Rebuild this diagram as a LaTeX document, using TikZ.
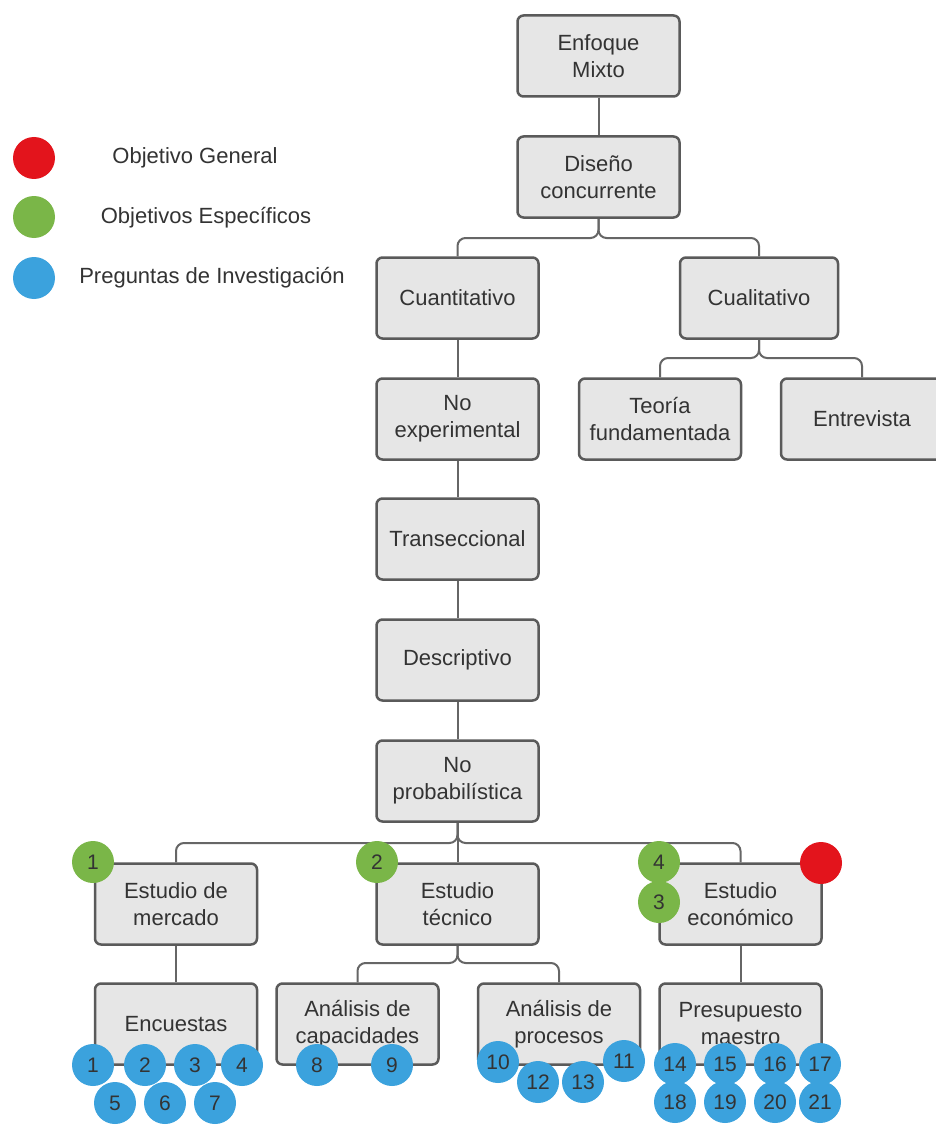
\documentclass[tikz,border=0pt]{standalone}
\usepackage{fontspec}
\setmainfont{Liberation Sans}
\definecolor{boxfill}{HTML}{E6E6E6}
\definecolor{boxdraw}{HTML}{5A5A5A}
\definecolor{linecol}{HTML}{666666}
\definecolor{textcol}{HTML}{333333}
\definecolor{gdot}{HTML}{7AB648}
\definecolor{bdot}{HTML}{3BA2DD}
\definecolor{rdot}{HTML}{E3141C}
\begin{document}
\begin{tikzpicture}[x=1pt,y=-1pt,
  box/.style={draw=boxdraw, fill=boxfill, line width=2.5pt, rounded corners=6pt,
    minimum width=162pt, minimum height=81pt, align=center, inner sep=0pt,
    font=\fontsize{22}{27}\selectfont, text=textcol},
  conn/.style={draw=linecol, line width=2pt, rounded corners=8pt},
  dot/.style={circle, minimum size=42pt, inner sep=0pt,
    font=\fontsize{21}{21}\selectfont, text=textcol},
  gd/.style={dot, fill=gdot},
  bd/.style={dot, fill=bdot},
  rd/.style={dot, fill=rdot},
  legtext/.style={font=\fontsize{22}{26}\selectfont, text=textcol, inner sep=0pt}]
\useasboundingbox (0,0) rectangle (936,1126);
\fill[white] (0,0) rectangle (936,1126);

% legend
\node[rd] (lr) at (34,158) {};
\node[gd] (lg) at (34,217) {};
\node[bd] (lb) at (34,278) {};
\node[legtext] (lrt) at (195,158) {Objetivo General};
\node[legtext] (lgt) at (206,218) {Objetivos Específicos};
\node[legtext] (lbt) at (212,278) {Preguntas de Investigación};

% boxes
\node[box] (mixto) at (598.5,56) {Enfoque\\Mixto};
\node[box] (diseno) at (598.5,177) {Diseño\\concurrente};
\node[box] (cuanti) at (457.5,298) {Cuantitativo};
\node[box, minimum width=158pt] (cuali) at (759,298) {Cualitativo};
\node[box] (noexp) at (457.5,419) {No\\experimental};
\node[box] (teoria) at (660,419) {Teoría\\fundamentada};
\node[box] (entrev) at (862,419) {Entrevista};
\node[box] (trans) at (457.5,539) {Transeccional};
\node[box] (desc) at (457.5,660) {Descriptivo};
\node[box] (noprob) at (457.5,781) {No\\probabilística};
\node[box] (mercado) at (176,904) {Estudio de\\mercado};
\node[box] (tecnico) at (457.5,904) {Estudio\\técnico};
\node[box] (economico) at (740.5,904) {Estudio\\económico};
\node[box] (encuestas) at (176,1024) {Encuestas};
\node[box] (capac) at (357.5,1024) {Análisis de\\capacidades};
\node[box] (procesos) at (559,1024) {Análisis de\\procesos};
\node[box] (presup) at (740.5,1024) {Presupuesto\\maestro};

% bus coordinates
\coordinate (b0) at (598.5,238);
\coordinate (b1) at (759,358);
\coordinate (b2) at (457.5,843);
\coordinate (b3) at (457.5,963);

% connectors
\begin{scope}[on background layer/.try]
\end{scope}
\draw[conn] (mixto) -- (diseno);
\draw[conn] (cuanti.north) |- (b0) -- (diseno.south);
\draw[conn] (cuali.north) |- (b0) -- (diseno.south);
\draw[conn] (teoria.north) |- (b1) -- (cuali.south);
\draw[conn] (entrev.north) |- (b1) -- (cuali.south);
\draw[conn] (cuanti) -- (noexp);
\draw[conn] (noexp) -- (trans);
\draw[conn] (trans) -- (desc);
\draw[conn] (desc) -- (noprob);
\draw[conn] (mercado.north) |- (b2) -- (noprob.south);
\draw[conn] (economico.north) |- (b2) -- (noprob.south);
\draw[conn] (tecnico.north) -- (noprob.south);
\draw[conn] (capac.north) |- (b3) -- (tecnico.south);
\draw[conn] (procesos.north) |- (b3) -- (tecnico.south);
\draw[conn] (mercado) -- (encuestas);
\draw[conn] (economico) -- (presup);

% objective dots
\node[gd] (g1) at (93,862) {1};
\node[gd] (g2) at (377,862) {2};
\node[gd] (g4) at (659,862) {4};
\node[gd] (g3) at (659,902) {3};
\node[rd] (r0) at (821,863) {};

% question dots
\node[bd] (q1) at (93,1065) {1};
\node[bd] (q2) at (145,1065) {2};
\node[bd] (q3) at (195,1065) {3};
\node[bd] (q4) at (242,1065) {4};
\node[bd] (q5) at (115,1103) {5};
\node[bd] (q6) at (165,1103) {6};
\node[bd] (q7) at (215,1103) {7};
\node[bd] (q8) at (317,1065) {8};
\node[bd] (q9) at (392,1065) {9};
\node[bd] (q10) at (498,1062) {10};
\node[bd] (q11) at (624,1061) {11};
\node[bd] (q12) at (538,1082) {12};
\node[bd] (q13) at (583,1082) {13};
\node[bd] (q14) at (675,1064) {14};
\node[bd] (q15) at (725,1064) {15};
\node[bd] (q16) at (775,1064) {16};
\node[bd] (q17) at (820,1064) {17};
\node[bd] (q18) at (675,1102) {18};
\node[bd] (q19) at (725,1102) {19};
\node[bd] (q20) at (775,1102) {20};
\node[bd] (q21) at (820,1102) {21};
\end{tikzpicture}
\end{document}
